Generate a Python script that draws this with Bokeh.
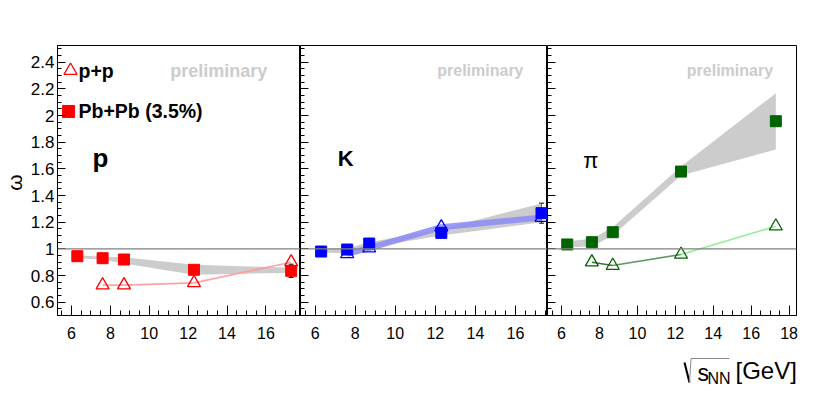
from bokeh.plotting import figure
from bokeh.models import (Range1d, SingleIntervalTicker, LinearAxis, Span, Label,
                          Whisker, ColumnDataSource, CustomJSTickFormatter)
from bokeh.layouts import row, column
from bokeh.embed import file_html
from bokeh.resources import INLINE

# ---------------- data ----------------
energy = [6.3, 7.6, 8.7, 12.3, 17.3]          # sqrt(s_NN) [GeV], Pb+Pb
energy_pp = [7.6, 8.7, 12.3, 17.3]            # sqrt(s_NN) [GeV], p+p

# protons
p_pbpb = [0.945, 0.93, 0.92, 0.843, 0.835]
p_pbpb_err = [0.004, 0.004, 0.004, 0.006, 0.05]
p_sys_lo = [0.93, 0.92, 0.89, 0.806, 0.821]
p_sys_hi = [0.952, 0.94, 0.938, 0.881, 0.858]
p_pp = [0.728, 0.728, 0.745, 0.90]

# kaons
k_pbpb = [0.98, 0.995, 1.04, 1.12, 1.268]
k_pbpb_err = [0.004, 0.004, 0.004, 0.008, 0.075]
k_sys_lo = [0.972, 0.965, 1.01, 1.10, 1.20]
k_sys_hi = [1.0, 1.005, 1.05, 1.15, 1.34]
k_pp = [0.963, 1.005, 1.163, 1.235]

# pions
pi_pbpb = [1.033, 1.05, 1.125, 1.58, 1.958]
pi_pbpb_err = [0.004, 0.004, 0.004, 0.004, 0.004]
pi_sys_lo = [1.013, 1.018, 1.10, 1.55, 1.745]
pi_sys_hi = [1.058, 1.075, 1.163, 1.618, 2.168]
pi_pp = [0.90, 0.875, 0.958, 1.17]

particle_labels = ["p", "K", "π"]
legend_labels = ["p+p", "Pb+Pb (3.5%)"]
prelim_text = "preliminary"
y_title = "ω"
x_title_parts = ["s", "NN", "[GeV]"]

# ---------------- style ----------------
FONT = "Liberation Sans"
Y0, Y1 = 0.5, 2.526
BAND = "#cccccc"
ROW_H = 345
STRIP_W = 27


def make_fig(w, xr, left_border, right_border, show_labels):
    p = figure(width=w, height=ROW_H, x_range=Range1d(*xr), y_range=Range1d(Y0, Y1),
               output_backend="svg", toolbar_location=None,
               min_border_left=left_border, min_border_right=right_border,
               min_border_top=45, min_border_bottom=30,
               x_axis_location=None, y_axis_location=None)
    p.grid.visible = False
    p.outline_line_color = "black"
    p.outline_line_width = 1
    p.background_fill_color = "white"
    p.border_fill_color = "white"

    xa = LinearAxis(ticker=SingleIntervalTicker(interval=2, num_minor_ticks=4))
    xa.major_tick_in = 10
    xa.major_tick_out = 0
    xa.minor_tick_in = 5
    xa.minor_tick_out = 0
    xa.major_label_standoff = 11
    xa.major_label_text_font = FONT
    xa.major_label_text_font_size = "16px"
    xa.major_label_text_color = "black"
    xa.axis_line_color = "black"
    p.add_layout(xa, "below")

    ya = LinearAxis(ticker=SingleIntervalTicker(interval=0.2, num_minor_ticks=4))
    ya.major_tick_in = 8
    ya.major_tick_out = 0
    ya.minor_tick_in = 4
    ya.minor_tick_out = 0
    ya.axis_line_color = "black"
    if show_labels:
        ya.major_label_standoff = 3
        ya.major_label_text_font = FONT
        ya.major_label_text_font_size = "17px"
        ya.major_label_text_color = "black"
        ya.formatter = CustomJSTickFormatter(code="return String(Number(tick.toFixed(2)));")
    else:
        ya.major_label_text_font_size = "0px"
        ya.major_label_standoff = 0
    p.add_layout(ya, "left")

    p.add_layout(Span(location=1, dimension="width", line_color="#808080", line_width=1.3))
    return p


def add_text(p, x, y, text, size, color="black", bold=True, align="center", angle=0.0):
    p.add_layout(Label(x=x, y=y, text=text, text_font=FONT, text_font_size=size,
                       text_font_style="bold" if bold else "normal", text_color=color,
                       text_align=align, text_baseline="middle", angle=angle))


def strip(w, h):
    s = figure(width=w, height=h, x_range=Range1d(0, w), y_range=Range1d(0, h),
               output_backend="svg", toolbar_location=None, min_border=0,
               x_axis_location=None, y_axis_location=None)
    s.grid.visible = False
    s.outline_line_color = None
    s.border_fill_color = "white"
    s.background_fill_color = "white"
    return s


def panel(p, pbpb, err, lo, hi, pp, sq_color, tri_color, line_color, line_width):
    p.varea(x=energy, y1=lo, y2=hi, fill_color=BAND)
    if isinstance(line_color, list):
        p.segment(x0=energy_pp[:-1], y0=pp[:-1], x1=energy_pp[1:], y1=pp[1:],
                  line_color=line_color, line_width=line_width)
    else:
        p.line(energy_pp, pp, line_color=line_color, line_width=line_width, line_alpha=0.9)
    p.scatter(energy_pp, pp, marker="triangle", size=13, fill_color=None,
              line_color=tri_color, line_width=1.3)
    src = ColumnDataSource(dict(x=energy, y=pbpb,
                                lo=[a - b for a, b in zip(pbpb, err)],
                                hi=[a + b for a, b in zip(pbpb, err)]))
    wh = Whisker(source=src, base="x", lower="lo", upper="hi", line_color="black", line_width=1)
    wh.upper_head.size = 5
    wh.lower_head.size = 5
    wh.upper_head.line_color = "black"
    wh.lower_head.line_color = "black"
    p.add_layout(wh)
    p.scatter("x", "y", source=src, marker="square", size=11, fill_color=sq_color,
              line_color=sq_color)


# y-axis title strip
fy = strip(STRIP_W, ROW_H)
add_text(fy, 14, 170, y_title, "21px", bold=False, angle=1.5708)

# panel 1: protons
f1 = make_fig(300 - STRIP_W, (5.28, 17.78), 57 - STRIP_W, 0, True)
panel(f1, p_pbpb, p_pbpb_err, p_sys_lo, p_sys_hi, p_pp,
      "#ff0000", "#ff0000", "#ff9a9a", 1.6)
add_text(f1, 13.58, 2.338, prelim_text, "18px", color="#cccccc")
add_text(f1, 7.49, 1.682, particle_labels[0], "26px")

# legend keys (placed in panel-1 coordinates)
LEG_KEY_X = [5.95, 5.85]
LEG_KEY_Y = [2.338, 2.031]
LEG_TEXT_X = 6.36
f1.scatter([LEG_KEY_X[0]], [LEG_KEY_Y[0]], marker="triangle", size=13, fill_color=None,
           line_color="#ff0000", line_width=1.3)
f1.scatter([LEG_KEY_X[1]], [LEG_KEY_Y[1]], marker="square", size=12, fill_color="#ff0000",
           line_color="#ff0000")
for lbl, ly in zip(legend_labels, LEG_KEY_Y):
    add_text(f1, LEG_TEXT_X, ly, lbl, "19.5px", align="left")

# panel 2: kaons
f2 = make_fig(247, (5.27, 17.6), 0, 0, False)
panel(f2, k_pbpb, k_pbpb_err, k_sys_lo, k_sys_hi, k_pp,
      "#0000ff", "#0000ff", "#8f8ff5", 6)
add_text(f2, 14.25, 2.338, prelim_text, "16px", color="#cccccc")
add_text(f2, 7.53, 1.676, particle_labels[1], "22px")

# panel 3: pions
f3 = make_fig(279, (5.26, 18.39), 0, 30, False)
panel(f3, pi_pbpb, pi_pbpb_err, pi_sys_lo, pi_sys_hi, pi_pp,
      "#006400", "#006400", ["#3f6f3f", "#5f965f", "#92ee92"], 1.6)
add_text(f3, 14.88, 2.338, prelim_text, "16px", color="#cccccc")
add_text(f3, 7.54, 1.663, particle_labels[2], "22px", bold=False)

# x-axis title strip (pixel coordinates)
TW, TH = 826, 46
ft = strip(TW, TH)
for txt, x, y, size in [(x_title_parts[0], 697, 19, "23px"),
                        (x_title_parts[1], 707, 13, "16px"),
                        (x_title_parts[2], 735, 21, "24px")]:
    add_text(ft, x, y, txt, size, bold=False, align="left")
# radical sign of the title
ft.segment(x0=[684], y0=[29], x1=[689], y1=[9], line_color="black", line_width=2)
ft.segment(x0=[689, 690.5], y0=[9, 33], x1=[690.5, 729], y1=[33, 33],
           line_color="#888888", line_width=1)

layout = column(row(fy, f1, f2, f3), ft)
open("out.html", "w").write(file_html(layout, INLINE))
